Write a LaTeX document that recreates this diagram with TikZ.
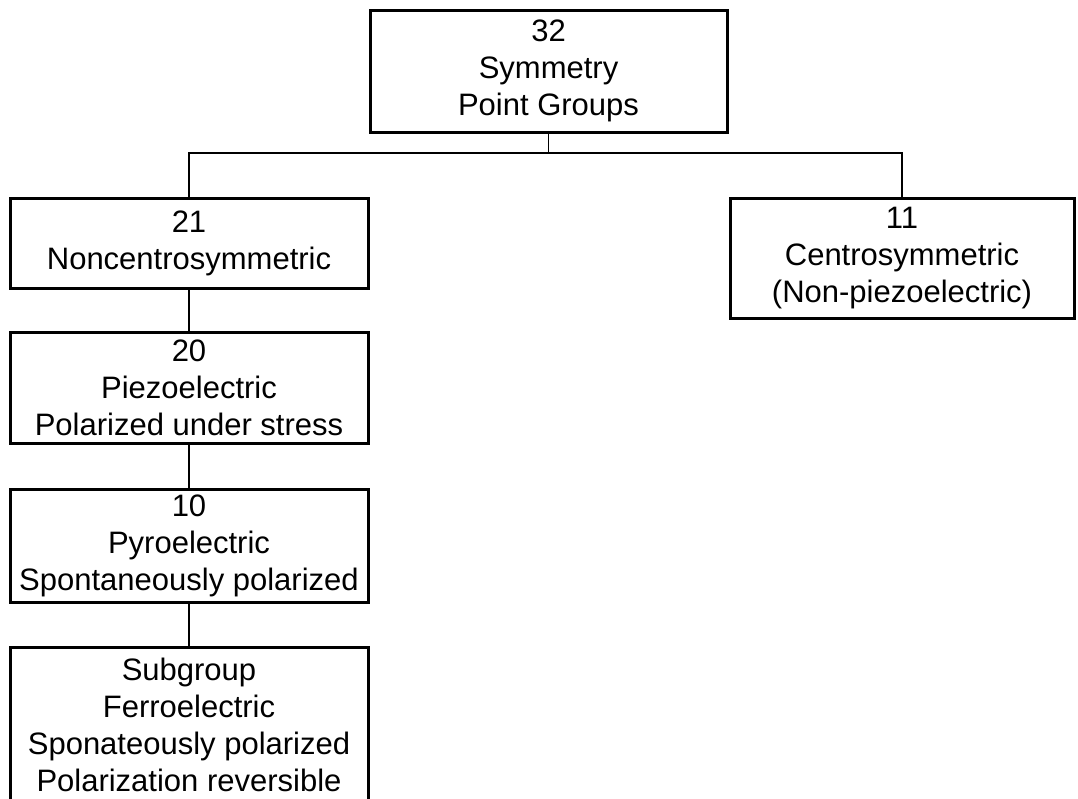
\documentclass[tikz,border=0pt]{standalone}
\usepackage{fontspec}
\setmainfont{Liberation Sans}
\usetikzlibrary{positioning}
\tikzset{grp/.style={draw,line width=3pt,minimum width=358pt,inner sep=0pt,outer sep=0pt,align=center,font=\fontsize{31}{37}\selectfont},
lnk/.style={line width=1.8pt}}

\begin{document}
\begin{tikzpicture}[x=1pt,y=-1pt]
		\useasboundingbox (0,0) rectangle (1078,798);
		\node[grp,minimum width=357pt,minimum height=122pt] (pg) at (548.5,71) {32\\Symmetry\\Point Groups};
		\node[grp,minimum height=90pt] (nc) at (189,243) {21\\Noncentrosymmetric};
		\node[grp,minimum width=344pt,minimum height=120pt] (cs) at (902,258) {11\\Centrosymmetric\\(Non-piezoelectric)};
		\node[grp,minimum height=111pt,below=44pt of nc] (pz) {20\\Piezoelectric\\Polarized under stress};
		\node[grp,minimum height=113pt,below=46pt of pz] (py) {10\\Pyroelectric\\Spontaneously polarized};
		\node[grp,minimum height=156pt,below=45pt of py] (fe) {Subgroup\\Ferroelectric\\Sponateously polarized\\Polarization reversible};
		\coordinate (split) at (548.5,153);
		\draw[lnk] (pg) -- (split);
		\draw[lnk] (split) -| (nc.north);
		\draw[lnk] (split) -| (cs.north);
		\draw[lnk] (nc) -- (pz);
		\draw[lnk] (pz) -- (py);
		\draw[lnk] (py) -- (fe);
	\end{tikzpicture}
\end{document}
